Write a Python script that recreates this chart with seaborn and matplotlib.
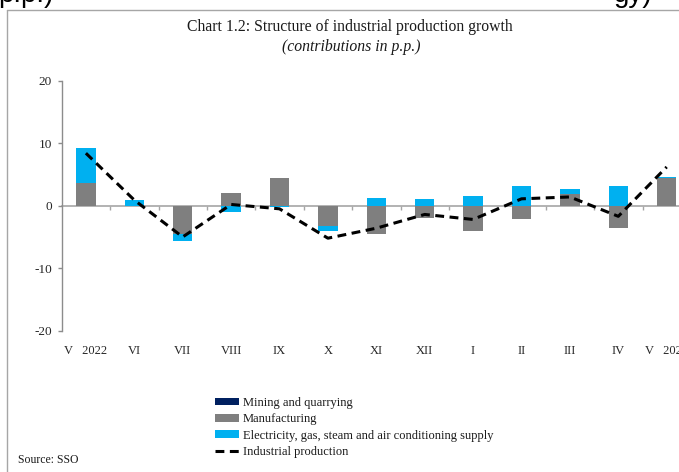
import numpy as np
import pandas as pd
import matplotlib
matplotlib.use("Agg")
import matplotlib.pyplot as plt
from matplotlib.lines import Line2D
from matplotlib.patches import Patch
import seaborn as sns

# Monthly contributions to industrial production growth (p.p.)
months = ["V   2022", "VI", "VII", "VIII", "IX", "X", "XI", "XII",
          "I", "II", "III", "IV", "V   2023"]
mining = [0.0, 0.0, 0.0, 0.0, 0.0, 0.0, 0.0, 0.0, 0.0, 0.0, 0.0, 0.0, 0.0]
manufacturing = [3.7, 0.0, -4.6, 2.0, 4.5, -3.3, -4.6, -2.0, -4.1, -2.2, 1.9, -3.5, 4.4]
electricity = [5.5, 0.9, -1.0, -1.0, -0.2, -0.8, 1.3, 1.0, 1.6, 3.2, 0.8, 3.2, 0.2]
industrial = [8.4, 0.9, -5.0, 0.2, -0.5, -5.2, -3.6, -1.4, -2.2, 1.1, 1.4, -1.7, 6.2]

series_labels = ["Mining and quarrying", "Manufacturing",
                 "Electricity, gas, steam and air conditioning supply"]
series_values = [mining, manufacturing, electricity]
series_colors = ["#002060", "#7f7f7f", "#00b0f0"]
line_label = "Industrial production"

sns.set_theme(style="white")
plt.rcParams["font.family"] = ["Liberation Serif", "DejaVu Serif"]
plt.rcParams["axes.unicode_minus"] = False

W, H = 679, 472
fig = plt.figure(figsize=(W / 100, H / 100), dpi=100)


def fx(px):
    return px / W


def fy(py):
    return 1 - py / H


ax = fig.add_axes([fx(61.7), fy(330.7), 629.2 / W, 250 / H])

pos = np.arange(len(months))
df = pd.DataFrame({"pos": pos, "ip": industrial})

# Stacked bars: positives stack upward, negatives stack downward
up = np.zeros(len(months))
down = np.zeros(len(months))
for vals, color in zip(series_values, series_colors):
    v = np.asarray(vals, dtype=float)
    base = np.where(v >= 0, up, down)
    sns.barplot(x=pos, y=v, native_scale=True, bottom=base, color=color,
                saturation=1, width=0.4, errorbar=None, edgecolor="none",
                linewidth=0, ax=ax)
    up += np.clip(v, 0, None)
    down += np.clip(v, None, 0)

sns.lineplot(data=df, x="pos", y="ip", color="black", lw=2.2, ax=ax,
             sort=False)
ax.lines[-1].set_linestyle((0, (2.9, 1.8)))

ax.set_xlim(-0.5, len(months) - 0.5)
ax.set_ylim(-20, 20)
ax.set_yticks([-20, -10, 0, 10, 20])
ax.set_xlabel("")
ax.set_ylabel("")

grey = "#8c8c8c"
for side in ["top", "right", "bottom"]:
    ax.spines[side].set_visible(False)
ax.spines["left"].set_color(grey)
ax.spines["left"].set_linewidth(1.0)
ax.tick_params(axis="y", direction="out", length=3, width=1.0, color=grey,
               left=True, labelsize=9.5, labelcolor="#262626", pad=4)
ax.set_xticks(pos)
ax.set_xticklabels(months)
ax.tick_params(axis="x", length=0, labelsize=9, labelcolor="#262626", pad=10)

# Zero line with category separators
zero_axis = ax.secondary_xaxis(0, transform=ax.transData)
zero_axis.set_xticks(np.arange(len(months) - 1) + 0.5)
zero_axis.set_xticklabels([])
zero_axis.tick_params(axis="x", direction="out", length=3, width=1.0,
                      color="#a6a6a6")
for sp in zero_axis.spines.values():
    sp.set_color("#a6a6a6")
    sp.set_linewidth(1.2)

# Titles
fig.text(fx(350), fy(27), "Chart 1.2: Structure of industrial production growth",
         ha="center", va="center", fontsize=11.3, color="#1a1a1a")
fig.text(fx(351), fy(47), "(contributions in p.p.)", ha="center", va="center",
         fontsize=11.3, style="italic", color="#1a1a1a")

# Legend
handles = [Patch(facecolor=c, edgecolor="none") for c in series_colors]
handles.append(Line2D([0], [0], color="black", lw=2.2,
                      linestyle=(0, (2.9, 1.8))))
fig.legend(handles, series_labels + [line_label], loc="upper left",
           bbox_to_anchor=(fx(215), fy(397)), frameon=False, fontsize=9,
           handlelength=1.92, handleheight=0.56, handletextpad=0.32,
           labelspacing=0.34, borderpad=0, borderaxespad=0,
           labelcolor="#1a1a1a")

fig.text(fx(18), fy(460), "Source: SSO", ha="left", va="center", fontsize=8.5,
         color="#1a1a1a")

# Surrounding frame and the line of page text above it
frame_kw = dict(transform=fig.transFigure, color="#a6a6a6", lw=1.0)
fig.add_artist(Line2D([fx(7.3), fx(7.3)], [fy(10), 0], **frame_kw))
fig.add_artist(Line2D([fx(7.3), 1], [fy(10), fy(10)], **frame_kw))
fig.text(fx(-2), fy(2.5), "p.p.)", ha="left", va="baseline", fontsize=20,
         family="Liberation Sans", color="black")
fig.text(fx(614), fy(2.5), "gy)", ha="left", va="baseline", fontsize=20,
         family="Liberation Sans", color="black")

fig.savefig("out.png", dpi=100)
